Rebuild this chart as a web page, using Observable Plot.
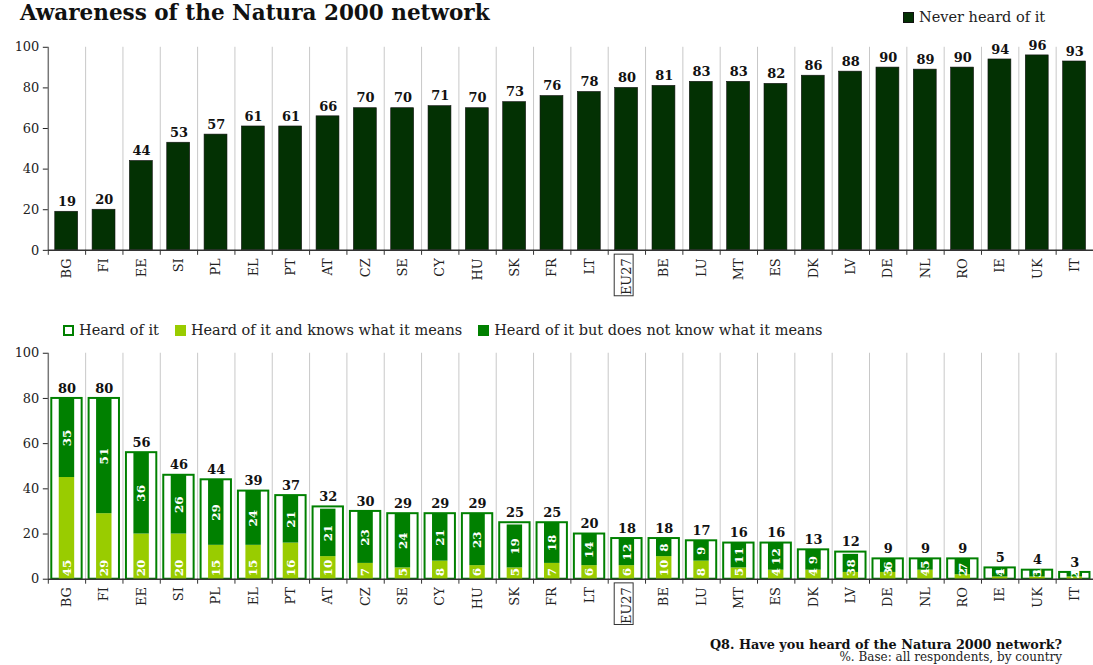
<!DOCTYPE html>
<html><head><meta charset="utf-8">
<script src="https://cdn.jsdelivr.net/npm/d3@7"></script>
<script src="https://cdn.jsdelivr.net/npm/@observablehq/plot@0.6"></script>
<style>
html,body{margin:0;padding:0;background:#fff;overflow:hidden;width:1093px;height:665px;}
body{position:relative;font-family:"DejaVu Serif",serif;color:#222}
.abs{position:absolute;white-space:nowrap;line-height:20px}
#title{left:20px;top:1px;font-size:21.5px;font-weight:bold;color:#111;line-height:24px}
#legTop{left:903px;top:7px;font-size:14.5px}
#legBot{left:63px;top:320px;font-size:14.5px}
.sw{display:inline-block;width:11px;height:11px;margin-right:5px;vertical-align:-1px;box-sizing:border-box}
.item{margin-right:16px}
#plotTop{position:absolute;left:0;top:0}
#plotBot{position:absolute;left:0;top:300px}
#q{right:31px;top:635px;font-size:12.8px;font-weight:bold;color:#111}
#base{right:31px;top:650px;font-size:12px;line-height:15px}
</style>
</head><body>
<div id="plotTop"></div>
<div id="plotBot"></div>
<div class="abs" id="title">Awareness of the Natura 2000 network</div>
<div class="abs" id="legTop"><span class="sw" style="background:#033103;border:1px solid #111"></span>Never heard of it</div>
<div class="abs" id="legBot"><span class="item"><span class="sw" style="background:#fff;border:2px solid #008000"></span>Heard of it</span><span class="item"><span class="sw" style="background:#99cc00"></span>Heard of it and knows what it means</span><span class="item"><span class="sw" style="background:#008000"></span>Heard of it but does not know what it means</span></div>
<div class="abs" id="q">Q8. Have you heard of the Natura 2000 network?</div>
<div class="abs" id="base">%. Base: all respondents, by country</div>
<script>
const countries = ["BG","FI","EE","SI","PL","EL","PT","AT","CZ","SE","CY","HU","SK","FR","LT","EU27","BE","LU","MT","ES","DK","LV","DE","NL","RO","IE","UK","IT"];
const neverHeard = [19,20,44,53,57,61,61,66,70,70,71,70,73,76,78,80,81,83,83,82,86,88,90,89,90,94,96,93];
const heardOfIt = [80,80,56,46,44,39,37,32,30,29,29,29,25,25,20,18,18,17,16,16,13,12,9,9,9,5,4,3];
const knowsMeaning = [45,29,20,20,15,15,16,10,7,5,8,6,5,7,6,6,10,8,5,4,4,3,3,4,2,1,1,1];
const notKnowMeaning = [35,51,36,26,29,24,21,21,23,24,21,23,19,18,14,12,8,9,11,12,9,8,6,5,7,4,3,2];
const yTicks = [0,20,40,60,80,100];

const W = 1098, ML = 48, MR = 0;
const step = (W - ML - MR) / countries.length;
const font = {fontFamily: "DejaVu Serif", fontSize: "13px", background: "transparent", color: "#222", overflow: "visible"};

function frameMarks() {
  return [
    Plot.ruleX(countries.slice(1), {dx: -step / 2, stroke: "#c8c8c8", strokeWidth: 1}),
    Plot.ruleX(countries.slice(0, 1), {dx: -step / 2, stroke: "#777", strokeWidth: 1.5}),
    Plot.ruleX(countries, {y1: 0, y2: 0, dx: -step / 2, insetBottom: -5, stroke: "#333"})
  ];
}
function axisMarks() {
  return [
    Plot.ruleY([0], {stroke: "#333", strokeWidth: 1.5}),
    Plot.axisY({ticks: yTicks, tickSize: 5, tickPadding: 4, fontSize: 13, label: null}),
    Plot.axisX({tickSize: 0, tickPadding: 8, tickRotate: -90, fontSize: 13, label: null})
  ];
}
function boxLabel(svg, name) {
  const svgRect = svg.getBoundingClientRect();
  svg.querySelectorAll("text").forEach(t => {
    if (t.textContent === name) {
      const r = t.getBoundingClientRect();
      const rect = document.createElementNS("http://www.w3.org/2000/svg", "rect");
      rect.setAttribute("x", r.left - svgRect.left - 2);
      rect.setAttribute("y", r.top - svgRect.top - 3);
      rect.setAttribute("width", r.width + 4);
      rect.setAttribute("height", r.height + 5);
      rect.setAttribute("fill", "none");
      rect.setAttribute("stroke", "#333");
      svg.appendChild(rect);
    }
  });
}

// Top chart
const topData = countries.map((c, i) => ({country: c, value: neverHeard[i]}));
const topPlot = Plot.plot({
  width: W, height: 300, marginLeft: ML, marginRight: MR, marginTop: 47, marginBottom: 49,
  style: font,
  x: {domain: countries, padding: 0, round: false, label: null, axis: null},
  y: {domain: [0, 100], label: null, axis: null},
  marks: [
    ...frameMarks(),
    Plot.barY(topData, {x: "country", y: "value", fill: "#033103", stroke: "#111", strokeWidth: 0.6, insetLeft: 7, insetRight: 7.5}),
    Plot.text(topData, {x: "country", y: "value", text: d => String(d.value), dy: -10, fontWeight: "bold", fontSize: 13, fill: "#111"}),
    ...axisMarks()
  ]
});
document.getElementById("plotTop").appendChild(topPlot);
boxLabel(topPlot, "EU27");

// Bottom chart
const bottomData = countries.map((c, i) => ({country: c, heard: heardOfIt[i], knows: knowsMeaning[i], notKnow: notKnowMeaning[i]}));
const stacked = countries.flatMap((c, i) => [
  {country: c, type: "knows", value: knowsMeaning[i]},
  {country: c, type: "notKnow", value: notKnowMeaning[i]}
]);
const botPlot = Plot.plot({
  width: W, height: 330, marginLeft: ML, marginRight: MR, marginTop: 53, marginBottom: 50,
  style: font,
  x: {domain: countries, padding: 0, round: false, label: null, axis: null},
  y: {domain: [0, 100], label: null, axis: null},
  color: {domain: ["knows", "notKnow"], range: ["#99cc00", "#008000"]},
  marks: [
    ...frameMarks(),
    Plot.barY(bottomData, {x: "country", y: "heard", fill: "white", stroke: "#008000", strokeWidth: 2, insetLeft: 3.5, insetRight: 3.5}),
    Plot.barY(stacked, {x: "country", y: "value", fill: "type", insetLeft: 11, insetRight: 11}),
    Plot.text(bottomData, {x: "country", y: 0, text: d => String(d.knows), rotate: -90, textAnchor: "start", dy: -3, fill: "white", fontWeight: "bold", fontSize: 12}),
    Plot.text(bottomData, {x: "country", y: d => d.knows + d.notKnow / 2, text: d => String(d.notKnow), rotate: -90, fill: "white", fontWeight: "bold", fontSize: 12}),
    Plot.text(bottomData, {x: "country", y: "heard", text: d => String(d.heard), dy: -10, fontWeight: "bold", fontSize: 13, fill: "#111"}),
    ...axisMarks()
  ]
});
document.getElementById("plotBot").appendChild(botPlot);
boxLabel(botPlot, "EU27");
</script>
</body></html>
